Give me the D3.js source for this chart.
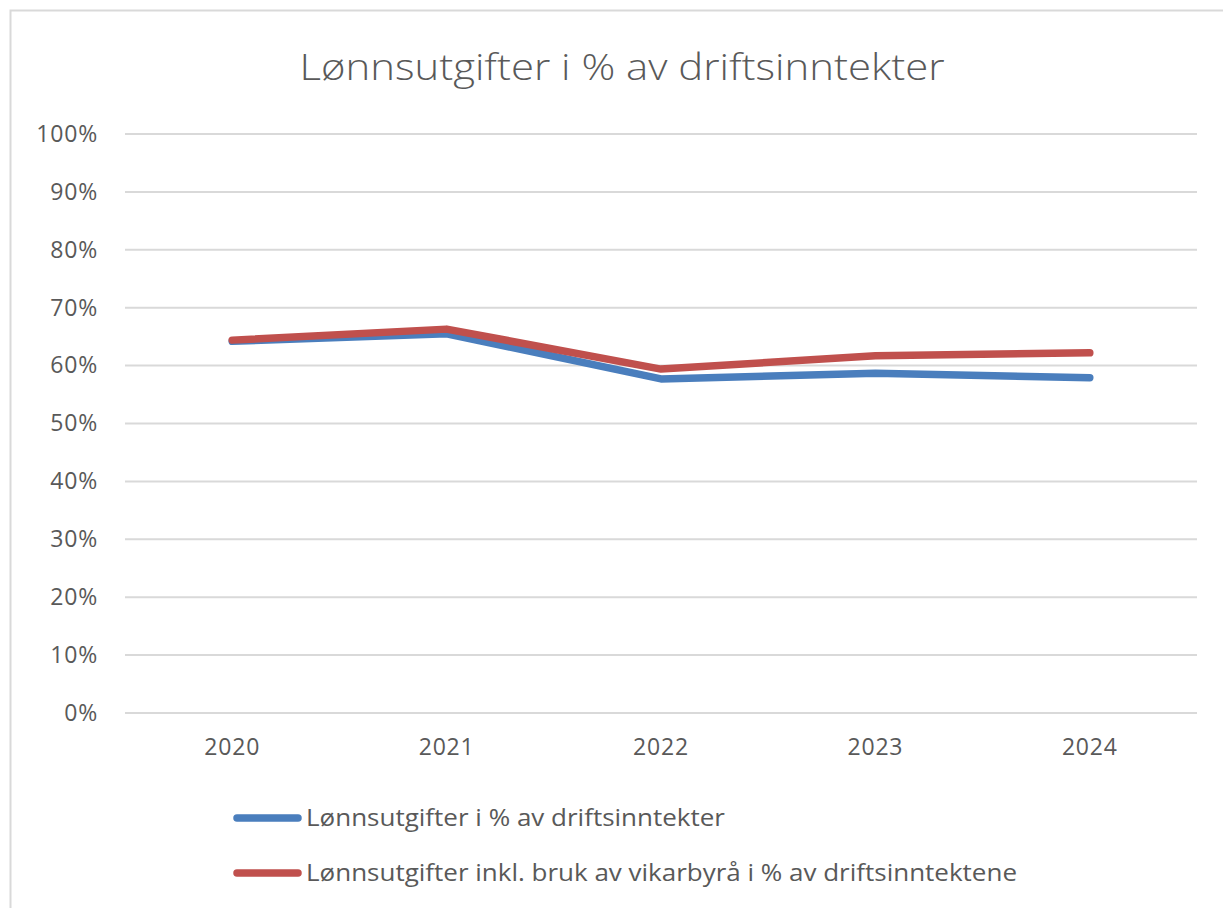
<!DOCTYPE html>
<html>
<head>
<meta charset="utf-8" />
<style type="text/css">
  *{margin:0px;padding:0px;}
  body{background:#fff;}
  text{font-family:"Open Sans", "Noto Sans", sans-serif;fill:#595959;}
</style>
</head>
<body>
<script src="https://cdn.jsdelivr.net/npm/d3@7"></script>
<script type="text/javascript">
// data
var years = ["2020", "2021", "2022", "2023", "2024"];
var lonn = [0.642, 0.655, 0.577, 0.587, 0.579];
var lonnVikar = [0.644, 0.663, 0.594, 0.617, 0.622];
var seriesNames = ["Lønnsutgifter i % av driftsinntekter",
                   "Lønnsutgifter inkl. bruk av vikarbyrå i % av driftsinntektene"];
var seriesColors = ["#4a7ebd", "#c0504d"];
var yTicks = [0, 0.1, 0.2, 0.3, 0.4, 0.5, 0.6, 0.7, 0.8, 0.9, 1.0];

var W = 1223, H = 908;
var svg = d3.select("body").append("svg").attr("width", W).attr("height", H);

// outer chart border
svg.append("rect")
  .attr("x", 10.5).attr("y", 10.5)
  .attr("width", 1240).attr("height", 940)
  .attr("fill", "#fff").attr("stroke", "#d9d9d9").attr("stroke-width", 2);

// title
svg.append("text")
  .attr("x", 622).attr("y", 80)
  .attr("text-anchor", "middle")
  .attr("font-size", 36).attr("font-weight", 300)
  .attr("textLength", 645).attr("lengthAdjust", "spacingAndGlyphs")
  .text("Lønnsutgifter i % av driftsinntekter");

var x = d3.scaleBand().domain(years).range([125, 1197]);
var y = d3.scaleLinear().domain([0, 1]).range([713, 134]);

// gridlines
svg.append("g").selectAll("line").data(yTicks).enter().append("line")
  .attr("x1", 125).attr("x2", 1197)
  .attr("y1", function(d){return y(d)}).attr("y2", function(d){return y(d)})
  .attr("stroke", "#d9d9d9").attr("stroke-width", 2);

// y axis
var yAxis = svg.append("g").attr("transform", "translate(98,0)")
  .call(d3.axisLeft(y).tickValues(yTicks).tickFormat(d3.format(".0%")).tickSize(0).tickPadding(0));
yAxis.select(".domain").remove();
yAxis.selectAll("text").attr("font-size", 23).attr("fill", "#595959")
  .attr("letter-spacing", 0.8)
  .style("font-family", "'Open Sans', sans-serif");

// x axis
var xAxis = svg.append("g").attr("transform", "translate(0,713)")
  .call(d3.axisBottom(x).tickSize(0).tickPadding(26));
xAxis.select(".domain").remove();
xAxis.selectAll("text").attr("font-size", 23).attr("fill", "#595959")
  .attr("letter-spacing", 0.8)
  .style("font-family", "'Open Sans', sans-serif");

// lines
var line = d3.line()
  .x(function(d, i){return x(years[i]) + x.bandwidth()/2})
  .y(function(d){return y(d)});

[lonn, lonnVikar].forEach(function(s, k){
  svg.append("path").datum(s)
    .attr("d", line)
    .attr("fill", "none")
    .attr("stroke", seriesColors[k])
    .attr("stroke-width", 7.5)
    .attr("stroke-linecap", "round")
    .attr("stroke-linejoin", "round");
});

// legend
var legendY = [818, 873];
var leg = svg.append("g").selectAll("g").data(seriesNames).enter().append("g")
  .attr("transform", function(d, i){return "translate(0," + legendY[i] + ")"});
leg.append("line")
  .attr("x1", 237).attr("x2", 298)
  .attr("stroke", function(d, i){return seriesColors[i]})
  .attr("stroke-width", 7.5).attr("stroke-linecap", "round");
leg.append("text")
  .attr("x", 306).attr("dy", "0.35em")
  .attr("font-size", 23)
  .attr("textLength", function(d, i){return i == 0 ? 419 : 711})
  .attr("lengthAdjust", "spacingAndGlyphs")
  .text(function(d){return d});
</script>
</body>
</html>
